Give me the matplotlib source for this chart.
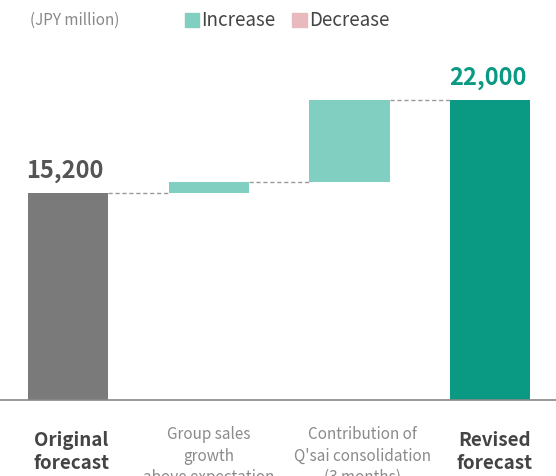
import matplotlib
matplotlib.use("Agg")
import matplotlib.pyplot as plt
from matplotlib.patches import Rectangle

categories = ["Original\nforecast", "Group sales\ngrowth\nabove expectation",
              "Contribution of\nQ'sai consolidation\n(3 months)", "Revised\nforecast"]
original = 15200
increments = [800, 6000]
revised = 22000
labels_top = ["15,200", "22,000"]

plt.rcParams['font.family'] = ['Noto Sans CJK JP', 'DejaVu Sans']

fig = plt.figure(figsize=(5.56, 4.76), dpi=100)
ax = fig.add_axes([0, 76/476, 1, 400/476])
ax.set_xlim(-0.483, 3.468)
ax.set_ylim(0, 400 / (300 / 22000))
ax.axis('off')

w = 0.57
c_gray = '#7a7a7a'
c_inc = '#80cfc1'
c_rev = '#0a9a84'

ax.bar(0, original, width=w, color=c_gray)
b = original
for i, inc in enumerate(increments):
    ax.bar(1 + i, inc, bottom=b, width=w, color=c_inc)
    b += inc
ax.bar(3, revised, width=w, color=c_rev)

# connectors
levels = [original, original + increments[0], revised]
for i, lv in enumerate(levels):
    ax.plot([i + w/2, i + 1 - w/2], [lv, lv], ls=(0, (3, 2)), color='#999999', lw=1)

ax.text(-0.025, original + 700, labels_top[0], ha='center', va='bottom', fontsize=17,
        fontweight='bold', color='#555555')
ax.text(2.985, revised + 700, labels_top[1], ha='center', va='bottom', fontsize=17,
        fontweight='bold', color='#0a9a84')

# baseline
ax.plot([-0.483, 3.468], [0, 0], color='#888888', lw=1.2, clip_on=False)

# legend / unit
fig.text(30/556, 1 - 20/476, "(JPY million)", ha='left', va='center', fontsize=11, color='#888888')
fig.patches.append(Rectangle((185/556, 1 - 27/476), 14/556, 14/476, transform=fig.transFigure,
                             color=c_inc, figure=fig))
fig.text(201/556, 1 - 20/476, "Increase", ha='left', va='center', fontsize=13.5, color='#444444')
fig.patches.append(Rectangle((292/556, 1 - 27/476), 15/556, 14/476, transform=fig.transFigure,
                             color='#e8b9bf', figure=fig))
fig.text(309/556, 1 - 20/476, "Decrease", ha='left', va='center', fontsize=13.5, color='#444444')

# category labels
offsets = [0.025, 0.0, 0.09, 0.03]
for i, cat in enumerate(categories):
    xf = ax.transData.transform((i + offsets[i], 0))[0] / fig.bbox.width
    if i in (0, 3):
        fig.text(xf, 1 - 431/476, cat, ha='center', va='top', fontsize=13.5, fontweight='bold',
                 color='#444444', linespacing=1.27)
    else:
        fig.text(xf, 1 - 426/476, cat, ha='center', va='top', fontsize=11,
                 color='#8a8a8a', linespacing=1.35)

fig.savefig("out.png", dpi=100)
